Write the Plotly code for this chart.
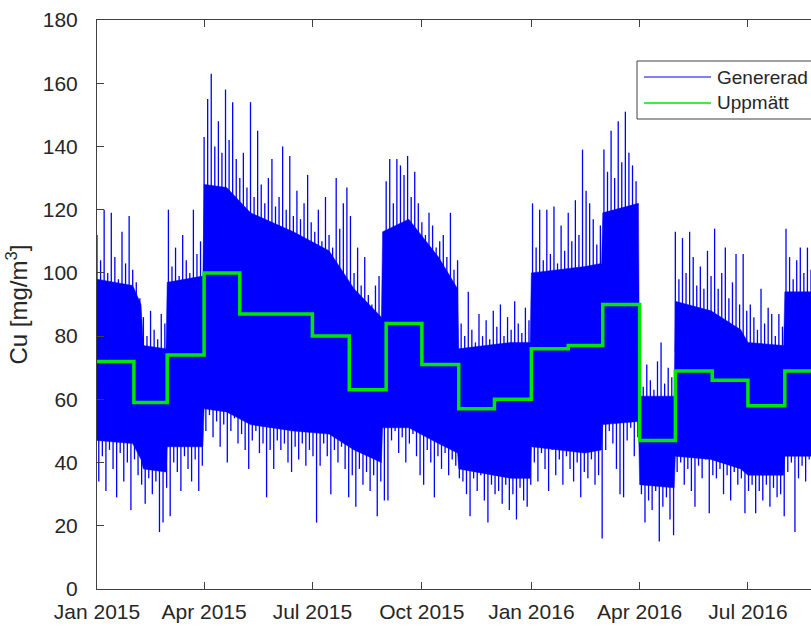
import pandas as pd
import plotly.graph_objects as go

# ---------------- data ----------------
# Measured monthly values ("Uppmätt"); last entry closes the final step
month_starts = ["2015-01-01", "2015-02-01", "2015-03-01", "2015-04-01", "2015-05-01",
                "2015-06-01", "2015-07-01", "2015-08-01", "2015-09-01", "2015-10-01",
                "2015-11-01", "2015-12-01", "2016-01-01", "2016-02-01", "2016-03-01",
                "2016-04-01", "2016-05-01", "2016-06-01", "2016-07-01", "2016-08-01",
                "2016-09-01"]
measured = [72, 59, 74, 100, 87, 87, 80, 63, 84, 71, 57, 60,
            76, 77, 90, 47, 69, 66, 58, 69, 69]

# Generated series ("Genererad"): solid dense band of the signal
band_dates = ["2015-01-01", "2015-01-31", "2015-02-07", "2015-02-09", "2015-02-28",
              "2015-03-01", "2015-03-31", "2015-04-01", "2015-04-20", "2015-05-10",
              "2015-06-15", "2015-07-15", "2015-08-05", "2015-08-28", "2015-08-29",
              "2015-09-20", "2015-10-15", "2015-10-31", "2015-11-01", "2015-12-15",
              "2015-12-31", "2016-01-01", "2016-02-15", "2016-02-29", "2016-03-01",
              "2016-03-31", "2016-04-01", "2016-04-30", "2016-05-01", "2016-05-31",
              "2016-06-25", "2016-07-01", "2016-07-31", "2016-08-01", "2016-08-31"]
band_top = [98, 96, 90, 77, 76, 97, 99, 128, 127, 119,
            113, 107, 95, 86, 113, 117, 105, 95, 76, 78,
            78, 100, 102, 103, 119, 122, 61, 61, 91, 88,
            82, 78, 77, 94, 94]
band_bottom = [47, 46, 41, 38, 37, 45, 45, 57, 56, 52,
               50, 49, 44, 40, 51, 51, 46, 43, 38, 35,
               35, 45, 43, 44, 52, 53, 33, 32, 42, 41,
               38, 36, 36, 42, 42]

# Generated series: 3-day high / low extremes (spikes)
gen_start = "2015-01-01"
gen_high = [
    112, 104, 120, 100, 119, 105, 98, 113, 103, 118, 101,          # Jan 2015
    97, 92, 86, 80, 88, 82, 79, 87, 84,                             # Feb
    120, 102, 108, 99, 112, 104, 100, 120, 106, 110,                # Mar
    143, 155, 163, 140, 148, 138, 158, 142, 154, 136,               # Apr
    130, 138, 127, 154, 124, 145, 128, 122, 130, 136, 121,          # May
    124, 140, 120, 137, 118, 126, 117, 122, 131, 116,               # Jun
    113, 120, 110, 124, 112, 108, 130, 114, 122, 127,               # Jul
    118, 100, 108, 96, 105, 93, 90, 96, 99, 88,                     # Aug
    129, 136, 122, 136, 134, 131, 137, 124, 132, 122,               # Sep
    116, 112, 119, 115, 108, 110, 112, 105, 119, 101, 104,          # Oct
    84, 80, 94, 82, 78, 87, 80, 85, 79, 88,                         # Nov
    83, 90, 80, 86, 82, 91, 84, 81, 89, 85,                         # Dec
    122, 108, 120, 104, 120, 106, 121, 103, 115, 107,               # Jan 2016
    119, 110, 123, 112, 139, 126, 122, 117, 109, 115,               # Feb
    139, 132, 145, 130, 148, 135, 151, 138, 134, 129,               # Mar
    68, 64, 71, 66, 63, 72, 78, 65, 70, 67,                         # Apr
    113, 98, 111, 100, 113, 105, 96, 102, 95, 107, 99,              # May
    114, 95, 100, 108, 92, 97, 106, 90, 106, 88,                    # Jun
    90, 86, 82, 95, 84, 89, 87, 80, 87, 83,                         # Jul
    114, 105, 98, 104, 108, 100, 108, 101, 99, 103,                 # Aug
]
gen_low = [
    34, 42, 31, 44, 38, 29, 43, 34, 40, 25, 41,                     # Jan 2015
    36, 33, 27, 35, 30, 34, 18, 21, 32,                             # Feb
    23, 40, 37, 31, 42, 38, 34, 41, 31, 39,                         # Mar
    50, 55, 48, 53, 45, 52, 40, 50, 54, 46,                         # Apr
    49, 44, 38, 47, 50, 43, 46, 29, 44, 38, 47,                     # May
    44, 46, 40, 37, 45, 41, 46, 39, 44, 42,                         # Jun
    21, 39, 46, 42, 30, 44, 40, 45, 38, 29,                         # Jul
    36, 26, 38, 33, 37, 31, 36, 23, 34, 28,                         # Aug
    28, 47, 50, 43, 48, 40, 46, 49, 42, 36,                         # Sep
    33, 44, 40, 29, 42, 38, 43, 36, 41, 39, 35,                     # Oct
    34, 30, 23, 35, 31, 36, 28, 21, 33, 30,                         # Nov
    31, 27, 33, 25, 30, 22, 32, 28, 26, 33,                         # Dec
    40, 34, 43, 38, 31, 44, 36, 41, 33, 42,                         # Jan 2016
    38, 34, 40, 29, 37, 35, 41, 33, 36, 16,                         # Feb
    44, 50, 46, 38, 30, 29, 47, 51, 42, 48,                         # Mar
    30, 21, 28, 25, 31, 15, 26, 29, 22, 17,                         # Apr
    37, 40, 33, 38, 31, 26, 39, 35, 41, 24, 36,                     # May
    35, 38, 30, 36, 28, 37, 33, 35, 24, 31,                         # Jun
    33, 24, 31, 28, 33, 26, 32, 29, 30, 23,                         # Jul
    37, 40, 18, 35, 39, 34, 41, 36, 38, 35,                         # Aug
]

x_tickvals = ["2015-01-01", "2015-04-01", "2015-07-01", "2015-10-01",
              "2016-01-01", "2016-04-01", "2016-07-01"]
x_ticktext = ["Jan 2015", "Apr 2015", "Jul 2015", "Oct 2015",
              "Jan 2016", "Apr 2016", "Jul 2016"]
y_tickvals = [0, 20, 40, 60, 80, 100, 120, 140, 160, 180]
x_range = ["2015-01-01", "2016-08-23"]
y_range = [0, 180]
series_names = ["Genererad", "Uppmätt"]
y_title = "Cu [mg/m<sup>3</sup>]"

# ---------------- build traces ----------------
t_spk = pd.date_range(gen_start, periods=len(gen_high), freq="3D")
t_low = t_spk + pd.Timedelta(hours=36)
sx, sy = [], []
for th, tl, h, l in zip(t_spk, t_low, gen_high, gen_low):
    mid = (h + l) / 2.0
    sx += [th, th, None, tl, tl, None]
    sy += [h, mid, None, mid, l, None]

BLUE = "rgb(0,0,255)"
GREEN = "rgb(0,230,0)"
AX = "#404040"
TXT = "#262626"
FONT = "Liberation Sans, Arial, sans-serif"

bd = pd.to_datetime(band_dates)
fig = go.Figure()
fig.add_trace(go.Scatter(x=bd, y=band_top, mode="lines", line=dict(color=BLUE, width=0.5),
                         showlegend=False, hoverinfo="skip"))
fig.add_trace(go.Scatter(x=bd, y=band_bottom, mode="lines", line=dict(color=BLUE, width=0.5),
                         fill="tonexty", fillcolor=BLUE, showlegend=False, hoverinfo="skip"))
fig.add_trace(go.Scatter(x=sx, y=sy, mode="lines", name=series_names[0],
                         line=dict(color=BLUE, width=1.3), showlegend=False,
                         hoverinfo="skip", connectgaps=False))
fig.add_trace(go.Scatter(x=pd.to_datetime(month_starts), y=measured, mode="lines",
                         name=series_names[1], line=dict(color=GREEN, width=3.5, shape="hv"),
                         showlegend=False))

W, H = 811, 628
L, R, T, B = 97, 0, 20, 39
pw, ph = W - L - R, H - T - B


def px(x):
    return (x - L) / pw


def py(y):
    return (H - B - y) / ph


# manual MATLAB-style legend
shapes = [
    dict(type="rect", xref="paper", yref="paper", x0=px(637), x1=px(840), y0=py(119), y1=py(61),
         line=dict(color=AX, width=1), fillcolor="white", layer="above"),
    dict(type="line", xref="paper", yref="paper", x0=px(644), x1=px(711), y0=py(77), y1=py(77),
         line=dict(color=BLUE, width=1), layer="above"),
    dict(type="line", xref="paper", yref="paper", x0=px(644), x1=px(711), y0=py(103), y1=py(103),
         line=dict(color=GREEN, width=1.5), layer="above"),
]
annotations = [
    dict(xref="paper", yref="paper", x=px(715), y=py(77), text=series_names[0], showarrow=False,
         xanchor="left", yanchor="middle", font=dict(size=19, color=TXT, family=FONT)),
    dict(xref="paper", yref="paper", x=px(715), y=py(103), text=series_names[1], showarrow=False,
         xanchor="left", yanchor="middle", font=dict(size=19, color=TXT, family=FONT)),
]

fig.update_layout(
    width=W, height=H,
    margin=dict(l=L, r=R, t=T, b=B, autoexpand=False),
    paper_bgcolor="white", plot_bgcolor="white",
    font=dict(family=FONT, size=21, color=TXT),
    showlegend=False,
    shapes=shapes, annotations=annotations,
    xaxis=dict(type="date", range=x_range, tickvals=x_tickvals, ticktext=x_ticktext,
               ticks="inside", ticklen=7, tickcolor=AX, showline=True, linecolor=AX, linewidth=1,
               mirror="ticks", showgrid=False, zeroline=False, ticklabelstandoff=4,
               tickfont=dict(size=21, color=TXT)),
    yaxis=dict(range=y_range, tickvals=y_tickvals, ticks="inside", ticklen=7, tickcolor=AX,
               showline=True, linecolor=AX, linewidth=1, mirror=False, showgrid=False,
               zeroline=False, ticklabelstandoff=14, tickfont=dict(size=21, color=TXT),
               title=dict(text=y_title, standoff=8, font=dict(size=24, color=TXT, family=FONT))),
)

fig.write_html("out.html")
